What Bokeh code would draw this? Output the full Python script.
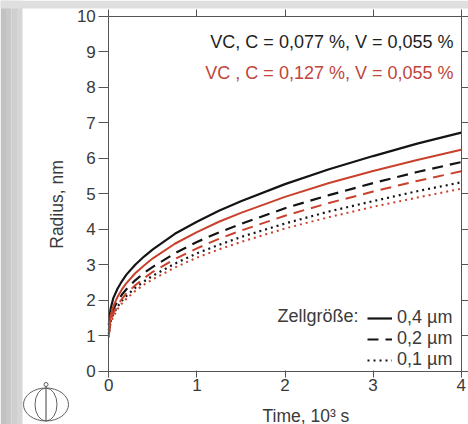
import math
from bokeh.plotting import figure
from bokeh.models import (Range1d, LinearAxis, FixedTicker, Label, Legend,
                          LegendItem, BoxAnnotation)
from bokeh.embed import file_html
from bokeh.resources import INLINE

# ---- data ----
time = [0, 0.02, 0.05, 0.1, 0.15, 0.2, 0.3, 0.4, 0.5, 0.75, 1.0, 1.25, 1.5, 2.0, 2.5, 3.0, 3.5, 4.0]

# C = 0,077 % (black)
black_04 = [1.3, 1.75, 2.05, 2.33, 2.54, 2.72, 3.0, 3.23, 3.43, 3.87, 4.21, 4.52, 4.79, 5.27, 5.69, 6.06, 6.41, 6.72]
black_02 = [1.15, 1.52, 1.74, 1.98, 2.16, 2.31, 2.56, 2.77, 2.94, 3.32, 3.64, 3.91, 4.15, 4.59, 4.96, 5.30, 5.61, 5.89]
black_01 = [1.05, 1.40, 1.60, 1.82, 1.99, 2.12, 2.35, 2.53, 2.69, 3.03, 3.32, 3.56, 3.78, 4.16, 4.50, 4.79, 5.07, 5.32]

# C = 0,127 % (red)
red_04 = [1.05, 1.56, 1.82, 2.10, 2.31, 2.48, 2.76, 2.98, 3.18, 3.59, 3.92, 4.21, 4.46, 4.91, 5.30, 5.64, 5.95, 6.24]
red_02 = [1.0, 1.42, 1.63, 1.86, 2.04, 2.19, 2.42, 2.62, 2.80, 3.16, 3.46, 3.73, 3.96, 4.38, 4.74, 5.06, 5.36, 5.63]
red_01 = [0.95, 1.34, 1.53, 1.75, 1.91, 2.04, 2.26, 2.44, 2.59, 2.92, 3.20, 3.43, 3.64, 4.02, 4.34, 4.63, 4.89, 5.14]

x_ticks = [0, 1, 2, 3, 4]
y_ticks = [0, 1, 2, 3, 4, 5, 6, 7, 8, 9, 10]
cell_labels = ["0,4 µm", "0,2 µm", "0,1 µm"]
title_black = "VC, C = 0,077 %, V = 0,055 %"
title_red = "VC , C = 0,127 %, V = 0,055 %"
legend_title = "Zellgröße:"
x_title = "Time, 10³ s"
y_title = "Radius, nm"

BLACK = "#141414"
RED = "#c9402c"
AXC = "#555555"
TXT = "#3a3a3a"
FONT = "Liberation Sans"

# ---- page geometry (pixels) ----
W, H = 468, 424
X0_PX, X4_PX = 108.3, 460.7      # x = 0 and x = 4
Y0_PX, Y10_PX = 370.7, 15.7      # y = 0 and y = 10
SX = (X4_PX - X0_PX) / 4.0
SY = (Y0_PX - Y10_PX) / 10.0


def dx(px):
    return (px - X0_PX) / SX


def dy(py):
    return (Y0_PX - py) / SY


p = figure(width=W, height=H, output_backend="svg", toolbar_location=None,
           x_range=Range1d(dx(0), dx(W)), y_range=Range1d(dy(H), dy(0)))
p.min_border = 0
p.min_border_left = 0
p.min_border_right = 0
p.min_border_top = 0
p.min_border_bottom = 0
p.xgrid.visible = False
p.ygrid.visible = False
p.outline_line_color = None
p.background_fill_color = "white"
p.border_fill_color = "white"

# grey page decoration (left strip with a light gradient, top band)
strip_edges = [0, 5.5, 11, 16.5, 22]
strip_colors = ["#c2c2c2", "#c8c8c8", "#cfcfcf", "#d6d6d6"]
for i, c in enumerate(strip_colors):
    p.add_layout(BoxAnnotation(left=dx(strip_edges[i]), right=dx(strip_edges[i + 1]),
                               fill_color=c, fill_alpha=1, line_color=None,
                               level="underlay"))
p.add_layout(BoxAnnotation(bottom=dy(8), fill_color="#dfdfdf", fill_alpha=1,
                           line_color=None, level="underlay"))


def style_axis(ax, ticks, loc, bounds, tick_out, tick_in, standoff, labels=True):
    ax.fixed_location = loc
    ax.bounds = bounds
    ax.ticker = FixedTicker(ticks=ticks)
    ax.axis_line_color = AXC
    ax.axis_line_width = 1
    ax.major_tick_line_color = AXC
    ax.major_tick_out = tick_out
    ax.major_tick_in = tick_in
    ax.minor_tick_out = 0
    ax.minor_tick_in = 0
    ax.major_label_standoff = standoff
    ax.major_label_text_font = FONT
    if labels:
        ax.major_label_text_color = TXT
        ax.major_label_text_font_size = "17px"
    else:
        ax.major_label_text_color = None
        ax.major_label_text_alpha = 0
        ax.major_label_text_font_size = "1px"
        ax.major_label_overrides = {t: "" for t in ticks}


style_axis(p.xaxis[0], x_ticks, 0, (0, 4), 6, 1, 2)
style_axis(p.yaxis[0], y_ticks, 0, (0, 10), 10, 0, 3)

top_ax = LinearAxis()
style_axis(top_ax, x_ticks, 10, (0, 4), 7, 0, 0, labels=False)
p.add_layout(top_ax, "above")
right_ax = LinearAxis()
style_axis(right_ax, y_ticks, 4, (0, 10), 8, 0, 0, labels=False)
p.add_layout(right_ax, "right")

# curves
rb4 = p.line(time, black_04, line_color=BLACK, line_width=2.2)
rb2 = p.line(time, black_02, line_color=BLACK, line_width=2.2, line_dash="11 7")
rb1 = p.line(time, black_01, line_color=BLACK, line_width=2.2, line_dash="2 4")
p.line(time, red_04, line_color=RED, line_width=2)
p.line(time, red_02, line_color=RED, line_width=2, line_dash="11 7")
p.line(time, red_01, line_color=RED, line_width=2, line_dash="2 4")

legend = Legend(items=[LegendItem(label=cell_labels[0], renderers=[rb4]),
                       LegendItem(label=cell_labels[1], renderers=[rb2]),
                       LegendItem(label=cell_labels[2], renderers=[rb1])],
                location=(367, H - 370))
legend.background_fill_alpha = 0
legend.border_line_color = None
legend.label_text_font = FONT
legend.label_text_font_size = "18px"
legend.label_text_color = TXT
legend.glyph_width = 25
legend.glyph_height = 20
legend.label_height = 20
legend.label_standoff = 5
legend.spacing = 0
legend.padding = 5
legend.margin = 0
p.add_layout(legend)

p.add_layout(Label(x=dx(358), y=dy(315), text=legend_title, text_align="right",
                   text_baseline="middle", text_font=FONT, text_font_size="18px",
                   text_color=TXT))

p.add_layout(Label(x=dx(453), y=dy(41.7), text=title_black, text_align="right",
                   text_baseline="middle", text_font=FONT, text_font_size="18px",
                   text_color="#1e1e1e"))
p.add_layout(Label(x=dx(453), y=dy(72.7), text=title_red, text_align="right",
                   text_baseline="middle", text_font=FONT, text_font_size="18px",
                   text_color="#c0453a"))

# axis titles
p.add_layout(Label(x=dx(56), y=dy(204), text=y_title, angle=math.pi / 2,
                   text_align="center", text_baseline="middle", text_font=FONT,
                   text_font_size="17.5px", text_color=TXT))
p.add_layout(Label(x=dx(262), y=dy(415), text=x_title, text_align="left",
                   text_baseline="middle", text_font=FONT,
                   text_font_size="17.5px", text_color=TXT))

# small emblem in the lower left corner (decoration)
LOGO = "#606060"
logo_cx, logo_cy = 45.5, 404.0
p.ellipse(x=[dx(logo_cx)], y=[dy(logo_cy)], width=45 / SX, height=33 / SY,
          fill_color=None, line_color=LOGO, line_width=1)
p.ellipse(x=[dx(logo_cx)], y=[dy(logo_cy)], width=22 / SX, height=33 / SY,
          fill_color=None, line_color=LOGO, line_width=1)
p.segment(x0=[dx(logo_cx)], y0=[dy(386)], x1=[dx(logo_cx)], y1=[dy(420.5)],
          line_color=LOGO, line_width=1.2)
p.scatter(x=[dx(logo_cx)], y=[dy(384)], marker="circle", size=4,
          fill_color="white", line_color=LOGO, line_width=1)

open("out.html", "w").write(file_html(p, INLINE))
